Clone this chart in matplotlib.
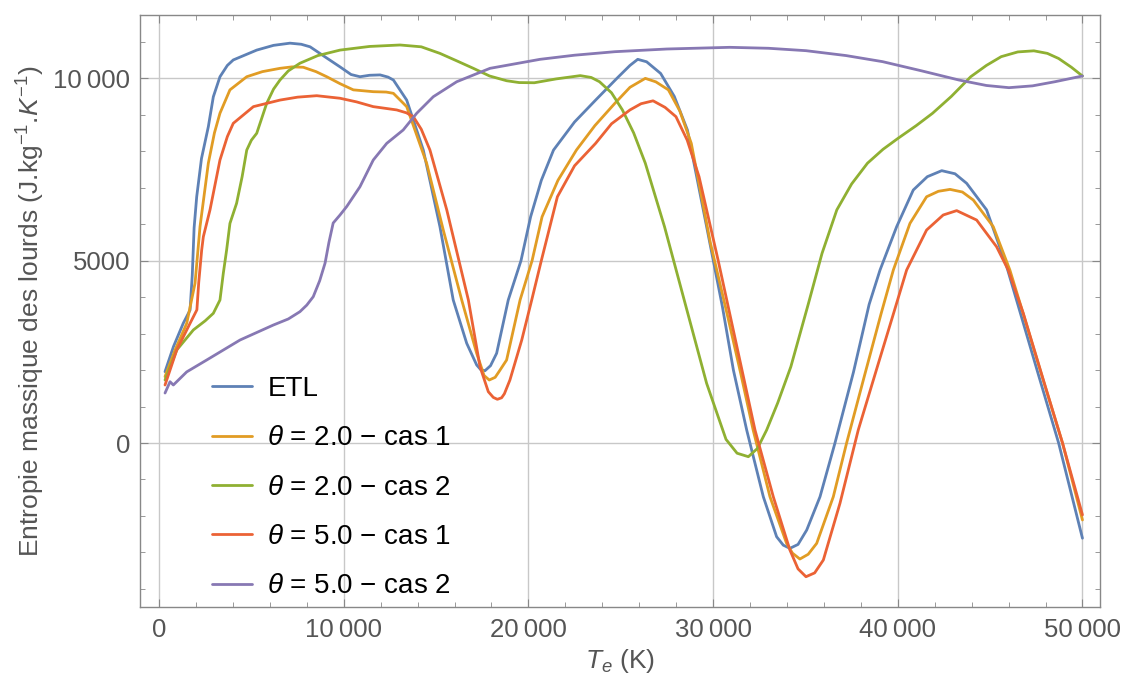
import matplotlib
matplotlib.use("Agg")
import matplotlib.pyplot as plt
import matplotlib.ticker as mticks

plt.rcParams['font.family'] = ['Liberation Sans', 'DejaVu Sans']
plt.rcParams['mathtext.fontset'] = 'custom'
plt.rcParams['mathtext.rm'] = 'Liberation Sans'
plt.rcParams['mathtext.it'] = 'Liberation Sans:italic'

# temperatures (K) and entropy values (J/kg/K)
t_etl = [325, 780, 1310, 1680, 1800, 1900, 2040, 2300, 2670, 2940, 3300, 3700, 4020, 5290,
         6200, 7090, 7700, 8180, 9000, 9800, 10400, 10880, 11400, 11970, 12400, 12690, 13410,
         14310, 15210, 15930, 16660, 17200, 17420, 17650, 17950, 18280, 18910, 19600, 20120,
         20700, 21360, 22500, 23640, 24800, 25500, 25920, 26400, 27160, 27900, 28610, 29650,
         30500, 31100, 31820, 32720, 33440, 33800, 34160, 34600, 35070, 35790, 36600, 37600,
         38450, 39040, 39940, 40840, 41600, 42380, 43100, 43730, 44810, 45900, 46500, 47600,
         48710, 50000]
s_etl = [1955, 2640, 3280, 3645, 4600, 5900, 6750, 7800, 8670, 9490, 10040, 10350, 10500, 10770,
         10900, 10960, 10930, 10860, 10580, 10310, 10100, 10040, 10080, 10090, 10030, 9950, 9400,
         8030, 5930, 3920, 2733, 2138, 2010, 1982, 2120, 2459, 3920, 5000, 6200,
         7200, 8030, 8800, 9400, 10000, 10350, 10517, 10450, 10130, 9500, 8580, 5930,
         3750, 2000, 356, -1472, -2568, -2800, -2887, -2780, -2385, -1472, 0, 1940,
         3800, 4742, 5930, 6935, 7300, 7465, 7380, 7118, 6390, 4833, 3800, 1900,
         0, -2610]

t_c1 = [325, 870, 1500, 1950, 2220, 2670, 3000, 3300, 3840, 4750, 5600, 6550, 7200, 7810,
        8500, 9080, 9800, 10520, 11600, 12300, 12690, 13410, 14490, 15390, 16390, 17200, 17600,
        17880, 18200, 18400, 18820, 19550, 20200, 20740, 21600, 22600, 23600, 24680, 25500,
        26330, 26900, 27580, 28200, 28820, 29860, 30800, 31500, 32170, 33080, 33980, 34300,
        34700, 35150, 35610, 36510, 37230, 38200, 39100, 39760, 40660, 41560, 42200, 42830,
        43500, 44090, 45170, 46070, 46700, 47800, 48920, 50000]
s_c1 = [1820, 2550, 3280, 4380, 5930, 7670, 8500, 9040, 9680, 10040, 10180, 10270, 10310, 10300,
        10180, 10040, 9850, 9680, 9630, 9620, 9585, 9220, 7670, 5840, 3920, 2459, 1850,
        1727, 1800, 1950, 2275, 3920, 5000, 6200, 7200, 8030, 8700, 9310, 9750,
        9995, 9900, 9680, 9100, 8214, 5470, 3450, 1900, 356, -1472, -2750, -3020,
        -3180, -3050, -2750, -1472, 0, 1850, 3550, 4742, 6020, 6750, 6900, 6952,
        6880, 6660, 5930, 4742, 3700, 1850, 0, -2110]

t_c2 = [325, 960, 1860, 2500, 2940, 3300, 3480, 3660, 3840, 4200, 4500, 4750, 5000, 5290,
        5830, 6200, 6550, 7000, 7630, 8600, 9800, 11400, 13050, 14200, 15210, 16100, 17020,
        17900, 18820, 19500, 20320, 21500, 22810, 23400, 23850, 24500, 25090, 25700, 26330,
        27370, 28500, 29650, 30700, 31300, 31910, 32400, 32900, 33500, 34210, 35150, 35900,
        36700, 37500, 38360, 39200, 40010, 41000, 41880, 42900, 43950, 44800, 45600, 46500,
        47370, 48100, 48710, 49400, 50000]
s_c2 = [1727, 2550, 3100, 3350, 3555, 3920, 4650, 5290, 6020, 6570, 7300, 8030, 8300, 8490,
        9310, 9700, 9950, 10200, 10410, 10620, 10770, 10870, 10910, 10860, 10680, 10480, 10270,
        10060, 9930, 9880, 9875, 9980, 10070, 10020, 9903, 9600, 9130, 8500, 7670,
        5930, 3800, 1636, 100, -280, -375, -150, 356, 1100, 2090, 3800, 5200,
        6390, 7100, 7670, 8050, 8350, 8700, 9037, 9500, 10040, 10350, 10590, 10720,
        10750, 10680, 10540, 10300, 10060]

t_c3 = [325, 960, 1680, 2050, 2150, 2310, 2400, 2760, 3300, 3700, 4020, 5110, 6550, 7500,
        8540, 9800, 10700, 11600, 12870, 13400, 13770, 14200, 14670, 15580, 16750, 17380, 17830,
        18100, 18320, 18550, 18700, 19000, 19640, 20180, 20700, 21570, 22500, 23640, 24500,
        25500, 26100, 26750, 27400, 27990, 28600, 29240, 30270, 31200, 32270, 33260, 34160,
        34600, 35030, 35500, 35970, 36870, 37590, 37860, 38900, 39800, 40480, 41560, 42460,
        43190, 44270, 45350, 45980, 46800, 47900, 48920, 50000]
s_c3 = [1590, 2550, 3280, 3650, 4400, 5290, 5655, 6390, 7757, 8400, 8763, 9220, 9400, 9480,
        9520, 9450, 9350, 9220, 9130, 9050, 8945, 8600, 8030, 6390, 3920, 2091, 1406,
        1250, 1198, 1240, 1350, 1727, 2823, 3920, 5000, 6750, 7600, 8214, 8750,
        9130, 9300, 9380, 9200, 8945, 8300, 7300, 5016, 2850, 356, -1472, -2933,
        -3450, -3665, -3560, -3207, -1654, -192, 356, 2100, 3600, 4742, 5838, 6250,
        6370, 6112, 5380, 4742, 3550, 1700, 0, -1970]

t_c4 = [325, 596, 775, 1500, 2580, 4385, 6190, 7000, 7630, 8000, 8350, 8700, 8990, 9200,
        9430, 9800, 10160, 10880, 11600, 12330, 13220, 13950, 14850, 16120, 17920, 20630,
        22500, 24680, 27500, 30900, 33000, 35030, 37200, 39180, 41300, 43310, 44800, 46020,
        47300, 48510, 50000]
s_c4 = [1370, 1680, 1590, 1950, 2275, 2823, 3234, 3400, 3600, 3780, 4010, 4450, 4930, 5500,
        6030, 6250, 6480, 7025, 7757, 8214, 8580, 9037, 9492, 9903, 10270, 10517,
        10630, 10726, 10800, 10846, 10820, 10754, 10620, 10453, 10200, 9950, 9800, 9740,
        9790, 9903, 10060]

labels = ['ETL', r'$\theta$ = 2.0 − cas 1', r'$\theta$ = 2.0 − cas 2',
          r'$\theta$ = 5.0 − cas 1', r'$\theta$ = 5.0 − cas 2']
colors = ['#5E81B5', '#E19C24', '#8FB032', '#EB6235', '#8778B3']

fig = plt.figure(figsize=(11.25, 6.82), dpi=100)
ax = fig.add_axes([140/1125, 1-607/682, 960/1125, 592/682])

series = [(t_etl, s_etl), (t_c1, s_c1), (t_c2, s_c2), (t_c3, s_c3), (t_c4, s_c4)]
for (t, s), lab, c in zip(series, labels, colors):
    ax.plot(t, s, color=c, lw=2.0, label=lab, solid_joinstyle='round', solid_capstyle='round')

ax.set_xlim(-1030, 50950)
ax.set_ylim(-4495, 11732)

ax.xaxis.set_major_locator(mticks.MultipleLocator(10000))
ax.xaxis.set_minor_locator(mticks.MultipleLocator(2000))
ax.yaxis.set_major_locator(mticks.MultipleLocator(5000))
ax.yaxis.set_minor_locator(mticks.MultipleLocator(1000))

def fmt(v, pos):
    v = int(round(v))
    if abs(v) >= 10000:
        return f"{v:,}".replace(",", "\u2009")
    return str(v)

ax.xaxis.set_major_formatter(mticks.FuncFormatter(fmt))
ax.yaxis.set_major_formatter(mticks.FuncFormatter(fmt))

ax.grid(True, which='major', color='#c8c8c8', lw=1.0)
ax.set_axisbelow(True)

ax.tick_params(which='both', direction='in', top=True, right=True, color='#888888',
               labelsize=18.5, labelcolor='#555555')
ax.tick_params(axis='x', pad=8)
ax.tick_params(axis='y', pad=7)
ax.tick_params(which='major', length=6, width=0.8)
ax.tick_params(which='minor', length=3.5, width=0.6)
for sp in ax.spines.values():
    sp.set_color('#888888')
    sp.set_linewidth(1.0)

ax.set_xlabel(r'$T_e$ (K)', fontsize=19, color='#555555')
ax.set_ylabel(r'Entropie massique des lourds (J.kg$^{-1}$.$K^{-1}$)', fontsize=19,
              color='#555555')
ax.xaxis.set_label_coords(0.5, -0.068)
ax.yaxis.set_label_coords(-0.097, 0.5)

leg = ax.legend(loc='upper left', bbox_to_anchor=(0.0747, 0.39), frameon=False,
                fontsize=20, handlelength=1.45, handletextpad=0.55, labelspacing=0.84,
                borderpad=0, borderaxespad=0)

fig.savefig('out.png', dpi=100)
